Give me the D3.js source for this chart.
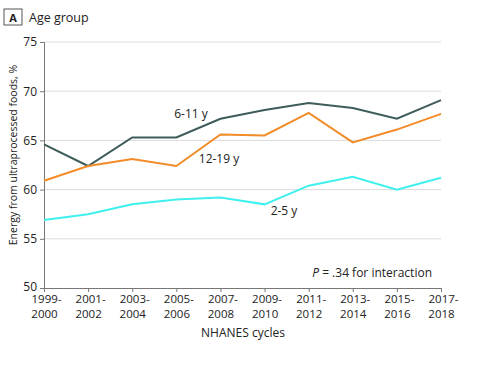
<!DOCTYPE html>
<html><head><meta charset="utf-8">
<script src="https://cdn.jsdelivr.net/npm/d3@7"></script>
<style>body{margin:0;background:#fff}text{font-family:"Open Sans","DejaVu Sans",sans-serif;fill:#222}</style>
</head><body><svg id="c" width="480" height="368"></svg>
<script>
const cycles = ["1999-2000","2001-2002","2003-2004","2005-2006","2007-2008","2009-2010","2011-2012","2013-2014","2015-2016","2017-2018"];
const age6to11 = [64.6,62.4,65.3,65.3,67.2,68.1,68.8,68.3,67.2,69.1];
const age12to19 = [60.9,62.4,63.1,62.4,65.6,65.5,67.8,64.8,66.1,67.7];
const age2to5 = [56.9,57.5,58.5,59.0,59.2,58.5,60.4,61.3,60.0,61.2];
const yTicks = [50,55,60,65,70,75];

const svg = d3.select("#c");
const x = d3.scalePoint().domain(cycles).range([44,441]);
const y = d3.scaleLinear().domain([50,75]).range([288,42]);

// gridlines
svg.append("g").selectAll("line").data(yTicks.filter(d=>d>50)).join("line")
  .attr("x1",44).attr("x2",441).attr("y1",d=>y(d)).attr("y2",d=>y(d))
  .attr("stroke","#dcdcdc").attr("stroke-width",1);

// y axis
const ya = svg.append("g").attr("transform","translate(44,0)")
  .call(d3.axisLeft(y).tickValues(yTicks).tickSize(4).tickPadding(3));
ya.select(".domain").attr("stroke","#777");
ya.selectAll(".tick line").attr("stroke","#777");
ya.selectAll(".tick text").attr("font-size",12).attr("fill","#222")
  .style("font-family","'Open Sans',sans-serif");
ya.selectAll(".tick").filter(d=>d===50).select("text").attr("dy","0.2em");

// x axis
const xa = svg.append("g").attr("transform","translate(0,288)")
  .call(d3.axisBottom(x).tickSize(4).tickSizeOuter(0).tickFormat(""));
xa.select(".domain").attr("stroke","#777");
xa.selectAll(".tick line").attr("stroke","#777");
xa.selectAll(".tick").each(function(d){
  const parts = d.split("-");
  const g = d3.select(this);
  g.append("text").attr("text-anchor","middle").attr("font-size",11.5).attr("fill","#222")
    .attr("x",2).attr("y",15).text(parts[0]+"-");
  g.append("text").attr("text-anchor","middle").attr("font-size",11.5).attr("fill","#222")
    .attr("x",0).attr("y",30).text(parts[1]);
});

// lines
const line = d3.line().x((d,i)=>x(cycles[i])).y(d=>y(d));
const series = [
  {vals:age6to11,color:"#3e5c5a"},
  {vals:age12to19,color:"#f28c28"},
  {vals:age2to5,color:"#3ff0ee"}
];
svg.append("g").selectAll("path").data(series).join("path")
  .attr("d",d=>line(d.vals)).attr("fill","none")
  .attr("stroke",d=>d.color).attr("stroke-width",2);

// series labels
svg.append("text").attr("x",191).attr("y",118).attr("text-anchor","middle").attr("font-size",12).text("6-11 y");
svg.append("text").attr("x",219).attr("y",163).attr("text-anchor","middle").attr("font-size",12).text("12-19 y");
svg.append("text").attr("x",284).attr("y",215).attr("text-anchor","middle").attr("font-size",12).text("2-5 y");

// annotation
const ann = svg.append("text").attr("x",432).attr("y",277).attr("text-anchor","end").attr("font-size",12);
ann.append("tspan").attr("font-style","italic").text("P");
ann.append("tspan").text(" = .34 for interaction");

// axis titles
svg.append("text").attr("transform","translate(17,155) rotate(-90)").attr("text-anchor","middle")
  .attr("font-size",10.5).text("Energy from ultraprocessed foods, %");
svg.append("text").attr("x",243).attr("y",337).attr("text-anchor","middle").attr("font-size",12).text("NHANES cycles");

// panel label
svg.append("rect").attr("x",4).attr("y",9).attr("width",18).attr("height",16)
  .attr("fill","#fff").attr("stroke","#555").attr("stroke-width",1);
svg.append("text").attr("x",13).attr("y",21.5).attr("text-anchor","middle").attr("font-size",11)
  .attr("font-weight","bold").text("A");
svg.append("text").attr("x",29).attr("y",21.5).attr("font-size",12.5).text("Age group");
</script></body></html>
